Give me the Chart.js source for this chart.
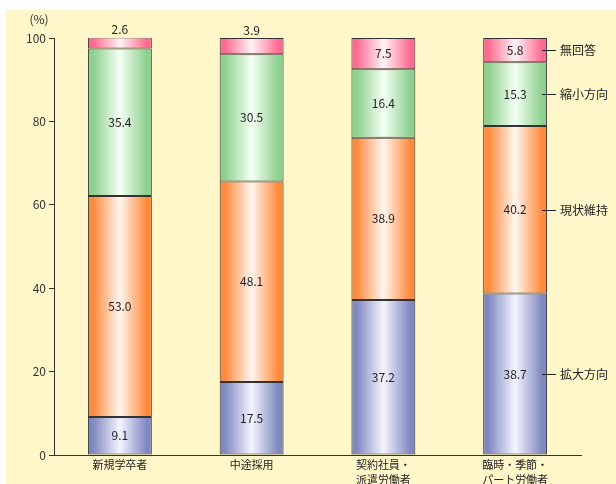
<!DOCTYPE html>
<html>
<head>
<meta charset="utf-8">
<script src="https://cdn.jsdelivr.net/npm/chart.js@4/dist/chart.umd.min.js"></script>
<style>
  html, body { margin: 0; padding: 0; background: #ffffff; }
  #wrap { width: 616px; height: 484px; position: relative; }
</style>
</head>
<body>
<div id="wrap"><canvas id="myChart" width="616" height="484"></canvas></div>
<script>
"use strict";

const categories = ["新規学卒者", "中途採用", ["契約社員・", "派遣労働者"], ["臨時・季節・", "パート労働者"]];
const seriesNames = ["拡大方向", "現状維持", "縮小方向", "無回答"];
const expandValues = [9.1, 17.5, 37.2, 38.7];
const keepValues = [53.0, 48.1, 38.9, 40.2];
const shrinkValues = [35.4, 30.5, 16.4, 15.3];
const noAnswerValues = [2.6, 3.9, 7.5, 5.8];
const yTicks = [0, 20, 40, 60, 80, 100];

const edgeColors = ["#8088c0", "#ff8a3c", "#8ed08e", "#ff6a90"];
const centerColors = ["#f4f4ff", "#fff6f0", "#f4fff4", "#fff4f6"];
const FONT = "'Noto Sans CJK JP', 'Noto Sans', sans-serif";
const BAR_PCT = 0.485;

const makeGradient = (seriesIndex) => (context) => {
  const chart = context.chart;
  const xScale = chart.scales && chart.scales.x;
  if (!xScale || context.dataIndex === undefined) return edgeColors[seriesIndex];
  const cx = xScale.getPixelForValue(context.dataIndex);
  const half = (xScale.width / categories.length) * BAR_PCT / 2;
  if (!isFinite(cx) || !isFinite(half) || half <= 0) return edgeColors[seriesIndex];
  const g = chart.ctx.createLinearGradient(cx - half, 0, cx + half, 0);
  g.addColorStop(0, edgeColors[seriesIndex]);
  g.addColorStop(0.08, edgeColors[seriesIndex]);
  g.addColorStop(0.5, centerColors[seriesIndex]);
  g.addColorStop(0.92, edgeColors[seriesIndex]);
  g.addColorStop(1, edgeColors[seriesIndex]);
  return g;
};

const seriesValues = [expandValues, keepValues, shrinkValues, noAnswerValues];

const datasets = seriesValues.map((vals, i) => ({
  label: seriesNames[i],
  data: vals,
  backgroundColor: makeGradient(i),
  borderColor: "#333333",
  borderWidth: 1,
  borderSkipped: false,
  categoryPercentage: 1,
  barPercentage: BAR_PCT,
}));

const ctx = document.getElementById("myChart").getContext("2d");

new Chart(ctx, {
  type: "bar",
  data: { labels: categories, datasets: datasets },
  options: {
    responsive: false,
    animation: false,
    layout: { padding: { left: 0, top: 38, right: 35, bottom: 0 } },
    plugins: {
      legend: { display: false },
      tooltip: { enabled: false },
    },
    scales: {
      x: {
        stacked: true,
        grid: { display: false, drawTicks: false },
        border: { display: true, color: "#333333", width: 1 },
        ticks: {
          color: "#222222",
          font: { size: 11, family: FONT, lineHeight: 1.36 },
          padding: 2,
          maxRotation: 0,
          autoSkip: false,
        },
        afterFit: (scale) => { scale.height = 29; },
      },
      y: {
        stacked: true,
        min: 0,
        max: 100,
        afterBuildTicks: (scale) => { scale.ticks = yTicks.map((v) => ({ value: v })); },
        grid: {
          display: true,
          drawOnChartArea: false,
          drawTicks: true,
          tickLength: 5,
          color: "#333333",
        },
        border: { display: true, color: "#333333", width: 1 },
        ticks: {
          color: "#333333",
          font: { size: 12, family: FONT },
          padding: 3,
        },
        afterFit: (scale) => { scale.width = 54; },
      },
    },
  },
  plugins: [
    {
      id: "bgColor",
      beforeDraw: (chart) => {
        const c = chart.ctx;
        c.save();
        c.fillStyle = "#ffffff";
        c.fillRect(0, 0, chart.width, chart.height);
        c.fillStyle = "#fff7c9";
        c.fillRect(6, 10, chart.width - 6, chart.height - 10);
        c.restore();
      },
    },
    {
      id: "valueLabels",
      afterDatasetsDraw: (chart) => {
        const c = chart.ctx;
        c.save();
        c.font = "12px " + FONT;
        c.fillStyle = "#222222";
        c.textAlign = "center";
        c.textBaseline = "middle";
        chart.data.datasets.forEach((ds, di) => {
          const meta = chart.getDatasetMeta(di);
          meta.data.forEach((bar, i) => {
            const v = ds.data[i];
            const text = v.toFixed(1);
            if (v < 5) {
              c.fillText(text, bar.x, Math.min(bar.y, bar.base) - 8);
            } else {
              c.fillText(text, bar.x, (bar.y + bar.base) / 2);
            }
          });
        });
        // series names at the right of the last bar
        const last = categories.length - 1;
        c.textAlign = "left";
        c.strokeStyle = "#222222";
        c.lineWidth = 1;
        chart.data.datasets.forEach((ds, di) => {
          const bar = chart.getDatasetMeta(di).data[last];
          const yMid = Math.round((bar.y + bar.base) / 2) + 0.5;
          const right = bar.x + bar.width / 2;
          c.beginPath();
          c.moveTo(right - 5, yMid);
          c.lineTo(right + 9, yMid);
          c.stroke();
          c.fillText(ds.label, right + 13, yMid);
        });
        c.restore();
      },
    },
    {
      id: "unitLabel",
      afterDraw: (chart) => {
        const c = chart.ctx;
        c.save();
        c.font = "12px " + FONT;
        c.fillStyle = "#333333";
        c.textAlign = "center";
        c.textBaseline = "middle";
        c.fillText("(%)", 39, 19);
        c.restore();
      },
    },
  ],
});
</script>
</body>
</html>
